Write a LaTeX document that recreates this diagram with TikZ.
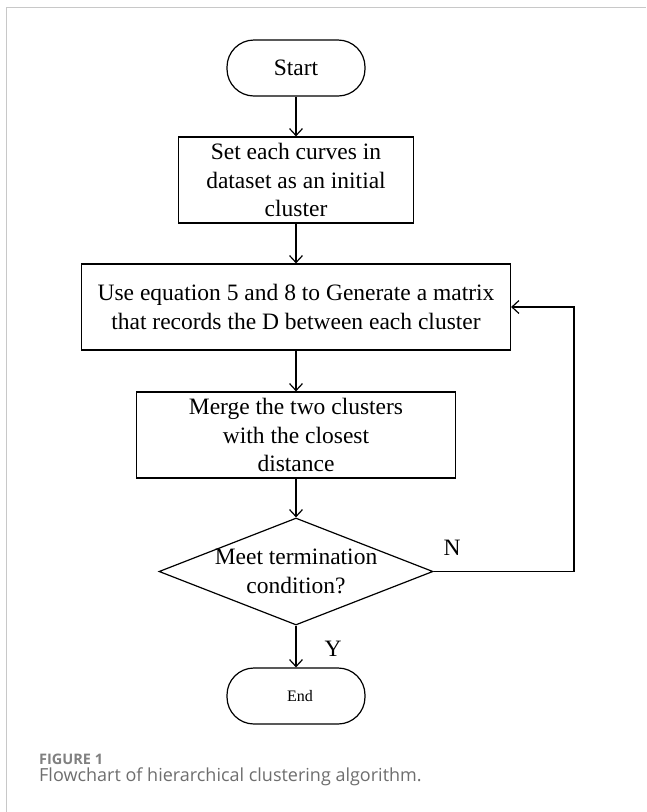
\documentclass[tikz,border=0pt]{standalone}
\usepackage{fontspec}
\setmainfont{Liberation Serif}
\newfontfamily\capfont{Open Sans}
\usetikzlibrary{shapes.geometric,arrows.meta}
\definecolor{framegray}{RGB}{200,200,200}
\definecolor{figgray}{RGB}{128,128,128}
\definecolor{capgray}{RGB}{110,110,110}
\begin{document}
\begin{tikzpicture}[x=1pt,y=-1pt,
  every node/.style={font=\fontsize{23.5}{28.5}\selectfont},
  flow/.style={draw, line width=1.2pt, align=center, inner sep=0pt},
  term/.style={flow, rounded corners=27pt, minimum width=138pt, minimum height=56pt},
  proc/.style={flow, minimum height=86pt},
  arr/.style={line width=1.2pt, -{Straight Barb[length=7pt,width=13pt,line width=1.2pt]}},
  captxt/.style={anchor=base west, inner sep=0pt}
]
\useasboundingbox (0,0) rectangle (646,812);
% frame
\draw[framegray, line width=1.3pt] (6.3,812) -- (6.3,7.3) -- (646,7.3);

% nodes
\node[term] (start) at (296,68) {Start};
\node[proc, minimum width=235pt] (b1) at (296,180) {Set each curves in\\dataset as an initial\\cluster};
\node[proc, minimum width=429pt] (b2) at (296,307) {Use equation 5 and 8 to Generate a matrix\\that records the D between each cluster};
\node[proc, minimum width=319pt] (b3) at (296,435) {Merge the two clusters\\with the closest\\distance};
\node[flow, diamond, minimum width=274pt, minimum height=107pt,
  label={[align=center, inner sep=0pt]center:Meet termination\\condition?}] (dec) at (296,571.5) {};
\node[term, font=\fontsize{16}{19}\selectfont] (end) at (296,696) {\hspace*{8pt}End};

\node (n) at (452,548) {N};
\node (y) at (333,649) {Y};

% connectors
\draw[arr] (start) -- (b1);
\draw[arr] (b1) -- (b2);
\draw[arr] (b2) -- (b3);
\draw[arr] (b3) -- (dec);
\draw[arr] (dec) -- (end);
\coordinate (fb) at (574,571.5);
\draw[arr] (dec.east) -- (fb) |- (b2.east);

% caption
\node[captxt, text=figgray, font=\capfont\bfseries\fontsize{14.5}{17}\selectfont] (fig) at (39,764) {FIGURE 1};
\node[captxt, text=capgray, font=\capfont\fontsize{18}{21}\selectfont] (cap) at (39,781) {Flowchart of hierarchical clustering algorithm.};
\end{tikzpicture}
\end{document}
